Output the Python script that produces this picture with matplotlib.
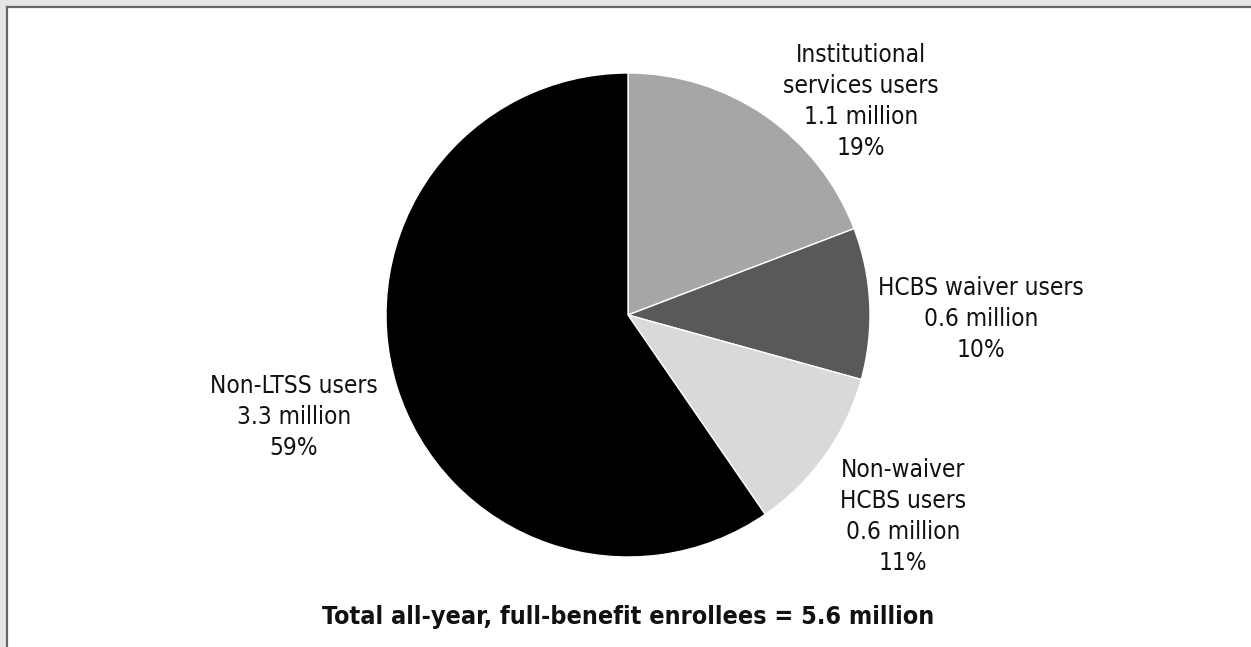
import matplotlib.pyplot as plt
from matplotlib import font_manager
from matplotlib.patches import Rectangle
from matplotlib.lines import Line2D

# prefer a condensed sans if one is installed
fonts = font_manager.fontManager.ttflist
condensed = [f.name for f in fonts if 'condensed' in str(f.stretch) or 'Narrow' in f.name
             or 'Condensed' in f.name]
family = condensed[0] if condensed else 'Liberation Sans'
plt.rcParams['font.family'] = [family, 'DejaVu Sans']
plt.rcParams['font.stretch'] = 'condensed'

# Share of full-benefit enrollees (percent), clockwise from 12 o'clock
groups = ['Institutional\nservices users', 'HCBS waiver users',
          'Non-waiver\nHCBS users', 'Non-LTSS users']
millions = ['1.1', '0.6', '0.6', '3.3']
shares = [19, 10, 11, 59]
colors = ['#a6a6a6', '#595959', '#d9d9d9', '#000000']
total = '5.6'

W, H = 1251, 647
fig = plt.figure(figsize=(W / 100, H / 100), dpi=100)
fig.patch.set_facecolor('#e5e6e7')

# white panel with a grey rule on the top and left
fig.patches.append(Rectangle((7 / W, 0), 1, 1 - 7 / H, transform=fig.transFigure,
                             facecolor='white', edgecolor='none', zorder=-5))
fig.lines.append(Line2D([6.5 / W, 1], [1 - 6.5 / H, 1 - 6.5 / H], transform=fig.transFigure,
                        color='#666666', lw=1.6, zorder=-4))
fig.lines.append(Line2D([6.5 / W, 6.5 / W], [0, 1 - 6.5 / H], transform=fig.transFigure,
                        color='#666666', lw=1.6, zorder=-4))

cx, cy, r = 628, 315, 242
ax = fig.add_axes([(cx - r) / W, (H - cy - r) / H, 2 * r / W, 2 * r / H])
ax.pie(shares, colors=colors, startangle=90, counterclock=False,
       wedgeprops=dict(edgecolor='white', linewidth=1))
ax.set_xlim(-1, 1)
ax.set_ylim(-1, 1)
ax.axis('off')

# label anchors in pixels (centre x, baseline of the last line)
label_pos = [(861, 155), (981, 357), (903, 570), (294, 455)]
for g, m, s, (x, y) in zip(groups, millions, shares, label_pos):
    fig.text(x / W, 1 - y / H, f'{g}\n{m} million\n{s}%', ha='center', va='baseline',
             fontsize=17.5, linespacing=1.37, color='#111111')

fig.text(628 / W, 1 - 624 / H, f'Total all-year, full-benefit enrollees = {total} million',
         ha='center', va='baseline', fontsize=18, fontweight='bold', color='#111111')

fig.savefig('out.png', dpi=100, facecolor=fig.get_facecolor())
